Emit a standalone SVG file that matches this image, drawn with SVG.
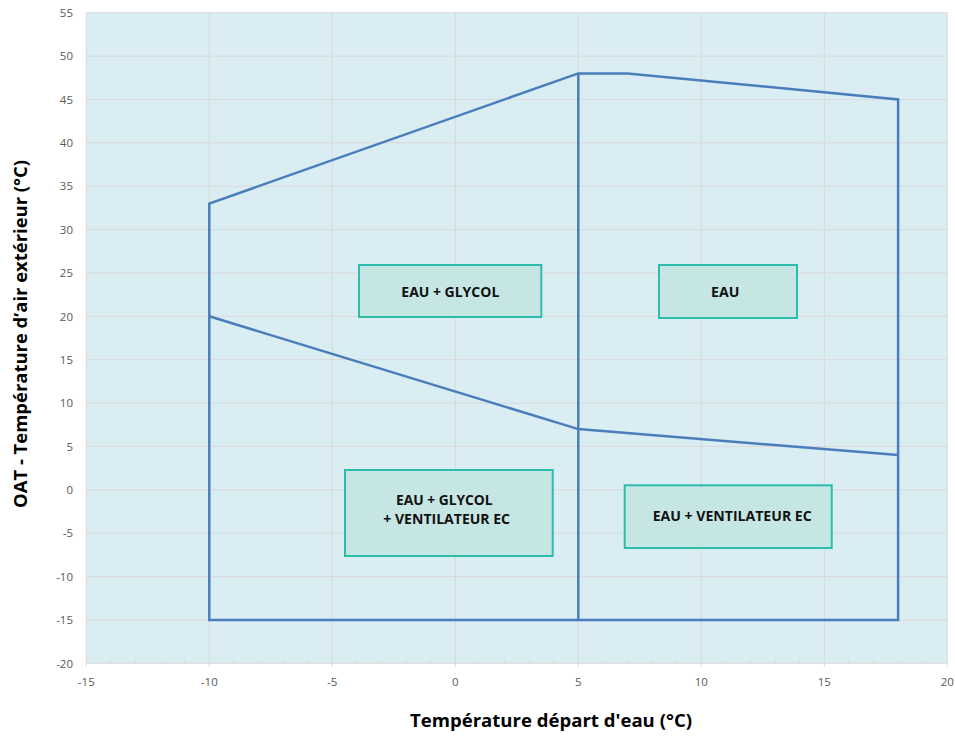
<svg xmlns="http://www.w3.org/2000/svg" width="955" height="743" viewBox="0 0 955 743">
<style>
.grid{stroke:#d9d9d9;stroke-width:1;fill:none}
.tick{font-family:"Open Sans","Liberation Sans",sans-serif;font-size:11.5px;fill:#595959}
.env{stroke:#4a7ebb;stroke-width:2.5;fill:none;stroke-linejoin:miter}
.box{fill:#c5e6e3;stroke:#2bbcaa;stroke-width:2}
.lbl{font-family:"Open Sans","Liberation Sans",sans-serif;font-size:13.5px;font-weight:bold;fill:#111;text-anchor:middle}
.title{font-family:"Open Sans","Liberation Sans",sans-serif;font-size:17px;font-weight:bold;fill:#000;text-anchor:middle}
</style>
<rect width="955" height="743" fill="#ffffff"/>
<g id="plot">
<rect x="86.3" y="12.7" width="861" height="650.6" fill="#daedf3"/>
<g class="grid">
<path d="M86.3 12.7H947.3M86.3 56.1H947.3M86.3 99.45H947.3M86.3 142.8H947.3M86.3 186.2H947.3M86.3 229.6H947.3M86.3 272.9H947.3M86.3 316.3H947.3M86.3 359.7H947.3M86.3 403.1H947.3M86.3 446.4H947.3M86.3 489.8H947.3M86.3 533.2H947.3M86.3 576.6H947.3M86.3 620H947.3M86.3 663.3H947.3"/>
<path d="M86.3 12.7V667M209.3 12.7V667M332.3 12.7V667M455.3 12.7V667M578.3 12.7V667M701.3 12.7V667M824.3 12.7V667M947.3 12.7V667"/>
<path d="M110.9 660V663.3M135.5 660V663.3M160.1 660V663.3M184.7 660V663.3M233.9 660V663.3M258.5 660V663.3M283.1 660V663.3M307.7 660V663.3M356.9 660V663.3M381.5 660V663.3M406.1 660V663.3M430.7 660V663.3M479.9 660V663.3M504.5 660V663.3M529.1 660V663.3M553.7 660V663.3M602.9 660V663.3M627.5 660V663.3M652.1 660V663.3M676.7 660V663.3M725.9 660V663.3M750.5 660V663.3M775.1 660V663.3M799.7 660V663.3M848.9 660V663.3M873.5 660V663.3M898.1 660V663.3M922.7 660V663.3"/>
</g>
</g>
<g id="y-ticks" class="tick" text-anchor="end">
<text x="73" y="16.9">55</text>
<text x="73" y="60.3">50</text>
<text x="73" y="103.7">45</text>
<text x="73" y="147">40</text>
<text x="73" y="190.4">35</text>
<text x="73" y="233.8">30</text>
<text x="73" y="277.1">25</text>
<text x="73" y="320.5">20</text>
<text x="73" y="363.9">15</text>
<text x="73" y="407.3">10</text>
<text x="73" y="450.6">5</text>
<text x="73" y="494">0</text>
<text x="73" y="537.4">-5</text>
<text x="73" y="580.8">-10</text>
<text x="73" y="624.2">-15</text>
<text x="73" y="667.5">-20</text>
</g>
<g id="x-ticks" class="tick" text-anchor="middle">
<text x="86.3" y="685.5">-15</text>
<text x="209.3" y="685.5">-10</text>
<text x="332.3" y="685.5">-5</text>
<text x="455.3" y="685.5">0</text>
<text x="578.3" y="685.5">5</text>
<text x="701.3" y="685.5">10</text>
<text x="824.3" y="685.5">15</text>
<text x="947.3" y="685.5">20</text>
</g>
<g id="connectors">
<path class="env" d="M209.3 619.95V203.55L578.3 73.4H627.5L898.1 99.45V619.95Z"/>
<path class="env" d="M578.3 73.4V619.95"/>
<path class="env" d="M209.3 316.3L578.3 429.1L898.1 455.1"/>
</g>
<g id="zone-eau-glycol">
<rect class="box" x="359" y="265" width="182.3" height="52"/>
<text class="lbl" x="450.3" y="296.5" textLength="98" lengthAdjust="spacingAndGlyphs">EAU + GLYCOL</text>
</g>
<g id="zone-eau">
<rect class="box" x="659" y="265" width="138" height="53"/>
<text class="lbl" x="725.2" y="296.5" textLength="28.3" lengthAdjust="spacingAndGlyphs">EAU</text>
</g>
<g id="zone-eau-glycol-ventilateur">
<rect class="box" x="345" y="470" width="207.7" height="86"/>
<text class="lbl" x="444.3" y="505" textLength="96.7" lengthAdjust="spacingAndGlyphs">EAU + GLYCOL</text>
<text class="lbl" x="446.7" y="523.5" textLength="126.7" lengthAdjust="spacingAndGlyphs">+ VENTILATEUR EC</text>
</g>
<g id="zone-eau-ventilateur">
<rect class="box" x="624.7" y="485.3" width="207" height="62.7"/>
<text class="lbl" x="732.2" y="521" textLength="159" lengthAdjust="spacingAndGlyphs">EAU + VENTILATEUR EC</text>
</g>
<g id="axis-titles">
<text class="title" x="551" y="727" textLength="282" lengthAdjust="spacingAndGlyphs">Température départ d'eau (°C)</text>
<text class="title" transform="translate(27 334) rotate(-90)" textLength="348" lengthAdjust="spacingAndGlyphs">OAT - Température d’air extérieur (°C)</text>
</g>
</svg>
